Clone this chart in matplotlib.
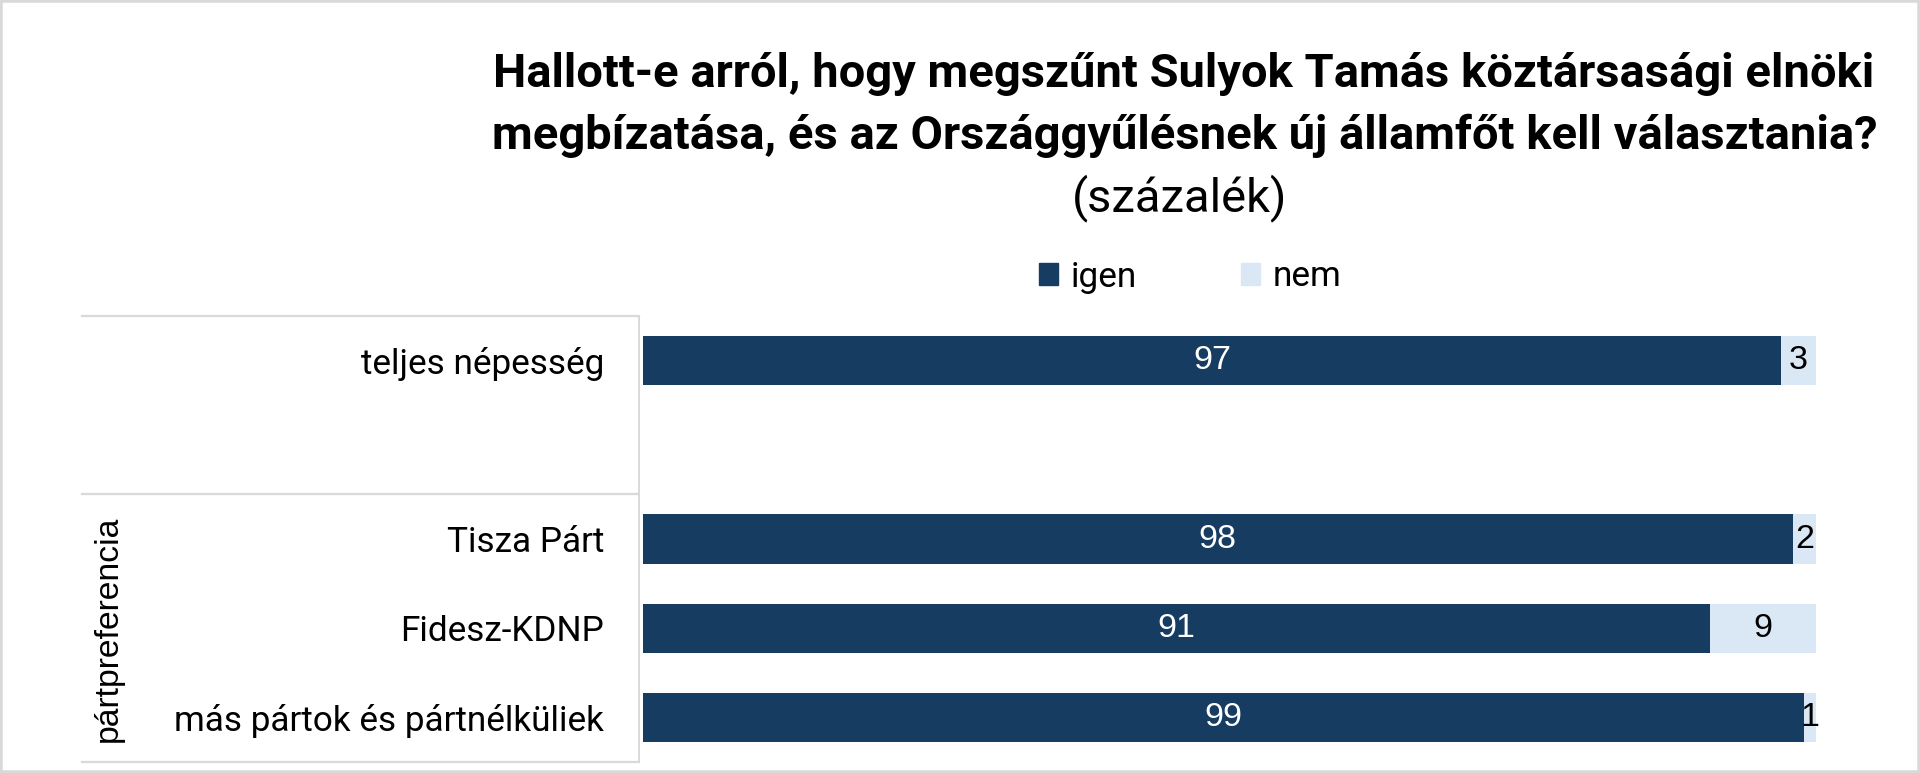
import matplotlib
matplotlib.use('Agg')
import matplotlib.pyplot as plt
from matplotlib.patches import Patch, Rectangle
from matplotlib.lines import Line2D
from matplotlib.transforms import blended_transform_factory

# adatok
kategoriak = ['teljes népesség', 'Tisza Párt', 'Fidesz-KDNP', 'más pártok és pártnélküliek']
pozicio = [0, 2, 3, 4]
igen = [97, 98, 91, 99]
nem = [3, 2, 9, 1]
sorozat_nevek = ['igen', 'nem']

cim1 = 'Hallott-e arról, hogy megszűnt Sulyok Tamás köztársasági elnöki'
cim2 = 'megbízatása, és az Országgyűlésnek új államfőt kell választania?'
alcim = '(százalék)'
csoport = 'pártpreferencia'

SOTET = '#173c61'
VILAGOS = '#dae8f5'
SZURKE = '#d9d9d9'
BETU = 'Roboto'
SZAM = 'Liberation Sans'

W, H = 1920, 773
fig = plt.figure(figsize=(W / 100, H / 100), dpi=100)
fig.patch.set_facecolor('white')


def fx(px):
    return px / W


def fy(py):
    return 1 - py / H


def illeszt(t, cel_px, irany='w'):
    # betuméret igazítása a kívánt szélességhez
    r = fig.canvas.get_renderer()
    for _ in range(3):
        bb = t.get_window_extent(renderer=r)
        meret = bb.width if irany == 'w' else bb.height
        t.set_fontsize(t.get_fontsize() * cel_px / meret)
    return t.get_fontsize()


ax = fig.add_axes([fx(643), fy(762), fx(1816) - fx(643), fy(316) - fy(762)])

b1 = ax.barh(pozicio, igen, height=0.55, color=SOTET, label=sorozat_nevek[0])
b2 = ax.barh(pozicio, nem, left=igen, height=0.55, color=VILAGOS, label=sorozat_nevek[1])
ax.bar_label(b1, label_type='center', color='white', fontsize=24.5, family=SZAM)
ax.bar_label(b2, label_type='center', color='black', fontsize=24.5, family=SZAM)

ax.set_xlim(0, 100)
ax.set_ylim(4.5, -0.5)
for s in ax.spines.values():
    s.set_visible(False)
ax.set_xticks([])
ax.set_yticks(pozicio)
ax.set_yticklabels(kategoriak, family=BETU, fontsize=19)
ax.tick_params(axis='y', length=0, pad=28)

# kategória keret
tr = blended_transform_factory(fig.transFigure, ax.transData)
for yy in [-0.5, 1.5, 4.5]:
    ax.add_line(Line2D([fx(82), fx(639)], [yy, yy], transform=tr, color=SZURKE,
                       lw=1.6, clip_on=False))
ax.add_line(Line2D([fx(639), fx(639)], [-0.5, 4.5], transform=tr, color=SZURKE,
                   lw=1.4, clip_on=False))

t_csop = fig.text(fx(108), fy(629), csoport, rotation=90, ha='center', va='center',
                  family=SZAM, fontsize=20)

t1 = fig.text(fx(1184), fy(74), cim1, ha='center', va='center', family=BETU,
              fontweight='bold', fontsize=24)
t2 = fig.text(fx(1185), fy(136), cim2, ha='center', va='center', family=BETU,
              fontweight='bold', fontsize=24)
t3 = fig.text(fx(1180), fy(198), alcim, ha='center', va='center', family=BETU,
              fontsize=24)

fig.canvas.draw()
m = illeszt(t1, 1382)
t2.set_fontsize(m)
t3.set_fontsize(m)
illeszt(t_csop, 226, irany='h')
tl = ax.get_yticklabels()
r = fig.canvas.get_renderer()
bb = tl[-1].get_window_extent(renderer=r)
cm = tl[-1].get_fontsize() * 430 / bb.width
for t in tl:
    t.set_fontsize(cm)

fig.legend(handles=[Patch(color=SOTET, label=sorozat_nevek[0]),
                    Patch(color=VILAGOS, label=sorozat_nevek[1])],
           loc='center', bbox_to_anchor=(fx(1190), fy(277)), ncol=2, frameon=False,
           prop={'family': BETU, 'size': cm}, handlelength=0.55, handleheight=0.55,
           handletextpad=0.35, columnspacing=2.95)

fig.add_artist(Rectangle((0, 0), 1, 1, transform=fig.transFigure, fill=False,
                         edgecolor=SZURKE, lw=4))

fig.savefig('out.png', dpi=100, facecolor='white')
